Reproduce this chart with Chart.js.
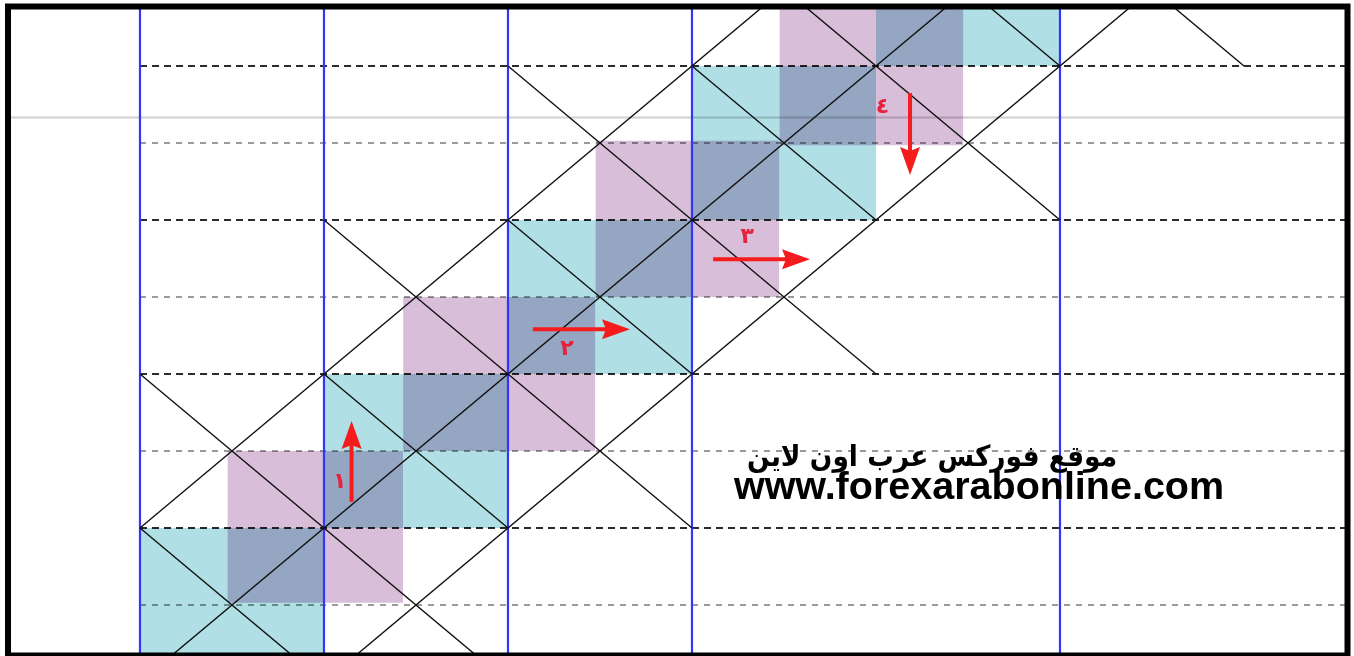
<!DOCTYPE html>
<html>
<head>
<meta charset="utf-8">
<script src="https://cdn.jsdelivr.net/npm/chart.js@4.4.1/dist/chart.umd.min.js"></script>
<style>
  html, body { margin: 0; padding: 0; background: #fff; }
  canvas { display: block; }
</style>
</head>
<body>
<canvas id="chart" width="1354" height="656"></canvas>
<script>
// grid units: u = half a blue column, v = one dashed row (v = 0 is the lowest grey dashed line)
const blueLines = [0, 2, 4, 6, 10];
const darkRows = [1, 3, 5, 7];
const lightRows = [0, 2, 4, 6];
const greyLine = 6.33;

// diagonal segments [u1, v1, u2, v2]
const diagonals = [
  [0, 1, 7, 8], [0, -1, 9, 8], [2, -1, 11, 8],
  [0, 1, 2, -1], [0, 3, 4, -1], [2, 3, 4, 1], [2, 5, 6, 1],
  [4, 5, 6, 3], [4, 7, 8, 3], [6, 7, 8, 5], [7, 8, 10, 5],
  [9, 8, 10, 7], [11, 8, 12, 7]
];

// boxes [u1, u2, v1, v2]
const cyanBoxes = [[0, 2, -1, 1], [2, 4, 1, 3], [4, 6, 3, 5], [6, 8, 5, 7], [8, 10, 7, 9]];
const purpleBoxes = [[0.95, 2.86, 0.03, 2.0], [2.86, 4.95, 2.0, 4.0], [4.95, 6.95, 4.0, 6.03], [6.95, 8.95, 5.97, 8.5]];

// arrow shafts [u1, v1, u2, v2], head goes on past the second point
const arrows = [[2.30, 1.34, 2.30, 2.078], [4.27, 3.58, 5.065, 3.58], [6.23, 4.49, 7.022, 4.49], [8.37, 6.65, 8.37, 5.896]];
const arrowLabels = ['١', '٢', '٣', '٤'];
const labelU = [2.17, 4.64, 6.60, 8.07];
const labelV = [1.60, 3.32, 4.77, 6.47];

const titleAr = 'موقع فوركس عرب اون لاين';
const titleEn = 'www.forexarabonline.com';

const X_MIN = -1.402, X_MAX = 13.098, Y_MIN = -0.623, Y_MAX = 7.74;

const seg = (a) => [{ x: a[0], y: a[1] }, { x: a[2], y: a[3] }];
const datasets = [];

darkRows.forEach((r) => datasets.push({
  data: [{ x: 0, y: r }, { x: X_MAX, y: r }],
  borderColor: "#2a2a2a", borderWidth: 2, borderDash: [7, 5], order: 6,
}));
lightRows.forEach((r) => datasets.push({
  data: [{ x: 0, y: r }, { x: X_MAX, y: r }],
  borderColor: "#9a9a9a", borderWidth: 2, borderDash: [6, 6], order: 6,
}));
datasets.push({
  data: [{ x: X_MIN, y: greyLine }, { x: X_MAX, y: greyLine }],
  borderColor: "#cfcfcf", borderWidth: 2, order: 6,
});
cyanBoxes.forEach((b) => datasets.push({
  box: true,
  data: [{ x: b[0], y: b[3] }, { x: b[1], y: b[3] }],
  fill: { value: b[2] },
  backgroundColor: "rgb(176,223,229)", borderColor: "rgba(0,0,0,0)", borderWidth: 0, order: 5,
}));
purpleBoxes.forEach((b) => datasets.push({
  box: true,
  data: [{ x: b[0], y: b[3] }, { x: b[1], y: b[3] }],
  fill: { value: b[2] },
  backgroundColor: "rgb(216,190,216)", borderColor: "rgba(0,0,0,0)", borderWidth: 0, order: 5,
}));
blueLines.forEach((c) => datasets.push({
  data: [{ x: c, y: Y_MIN }, { x: c, y: Y_MAX }],
  borderColor: "#3434ff", borderWidth: 2.2, order: 4,
}));
diagonals.forEach((d) => datasets.push({
  data: seg(d), borderColor: "#111", borderWidth: 1.4, order: 3,
}));
arrows.forEach((a) => datasets.push({
  arrow: true, data: seg(a), borderColor: "#f41c1c", borderWidth: 4, order: 2,
}));

function setBlend(chart, meta) {
  const ds = chart.data.datasets[meta.index];
  chart.ctx.globalCompositeOperation = ds.box ? "multiply" : "source-over";
}

//dibujo extra: mezcla de cajas, puntas de flecha, textos y marco
const extras = {
  id: "extras",
  beforeDatasetsDraw(chart) {
    const metas = chart.getSortedVisibleDatasetMetas();
    setBlend(chart, metas[metas.length - 1]);
  },
  afterDatasetDraw(chart, args) {
    const metas = chart.getSortedVisibleDatasetMetas();
    const i = metas.indexOf(args.meta);
    chart.ctx.globalCompositeOperation = "source-over";
    if (i > 0) setBlend(chart, metas[i - 1]);
  },
  afterDatasetsDraw(chart) {
    const ctx = chart.ctx;
    ctx.globalCompositeOperation = "source-over";
    chart.data.datasets.forEach((ds, i) => {
      if (!ds.arrow) return;
      const pts = chart.getDatasetMeta(i).data;
      const a = pts[0], b = pts[1];
      const len = Math.hypot(b.x - a.x, b.y - a.y);
      const dx = (b.x - a.x) / len, dy = (b.y - a.y) / len;
      const nx = -dy, ny = dx;
      ctx.save();
      ctx.fillStyle = ds.borderColor;
      ctx.beginPath();
      ctx.moveTo(b.x + dx * 24, b.y + dy * 24);
      ctx.lineTo(b.x - dx * 4 + nx * 10, b.y - dy * 4 + ny * 10);
      ctx.lineTo(b.x, b.y);
      ctx.lineTo(b.x - dx * 4 - nx * 10, b.y - dy * 4 - ny * 10);
      ctx.closePath();
      ctx.fill();
      ctx.restore();
    });
  },
  afterDraw(chart) {
    const ctx = chart.ctx;
    const xs = chart.scales.x, ys = chart.scales.y;
    ctx.save();
    ctx.textAlign = "center";

    ctx.fillStyle = "#e8203c";
    ctx.textBaseline = "middle";
    ctx.font = 'bold 22px "DejaVu Sans", sans-serif';
    arrowLabels.forEach((t, i) => {
      ctx.fillText(t, xs.getPixelForValue(labelU[i]), ys.getPixelForValue(labelV[i]));
    });

    ctx.fillStyle = "#000";
    ctx.textBaseline = "alphabetic";
    ctx.font = 'bold 39.5px "Liberation Sans", Arial, sans-serif';
    ctx.fillText(titleEn, xs.getPixelForValue(9.12), ys.getPixelForValue(1.377));

    // arabic line: fixed height, squeezed to the width seen in the picture
    ctx.font = 'bold 29px "DejaVu Sans", sans-serif';
    const w = ctx.measureText(titleAr).width;
    const k = 370 / w;
    ctx.save();
    ctx.translate(xs.getPixelForValue(8.61), ys.getPixelForValue(1.80));
    ctx.scale(k, 1);
    ctx.fillText(titleAr, 0, 0);
    ctx.restore();

    ctx.lineWidth = 6;
    ctx.strokeStyle = "#000";
    ctx.strokeRect(8, 6.5, 1339.5, 649);
    ctx.restore();
  },
};

new Chart(document.getElementById("chart"), {
  type: "scatter",
  data: { datasets: datasets },
  options: {
    responsive: false,
    animation: false,
    events: [],
    showLine: true,
    layout: { padding: { left: 11, top: 9, right: 9, bottom: 3 } },
    elements: { point: { radius: 0, hoverRadius: 0 }, line: { tension: 0 } },
    plugins: { legend: { display: false }, tooltip: { enabled: false } },
    scales: {
      x: { type: "linear", min: X_MIN, max: X_MAX, display: false },
      y: { type: "linear", min: Y_MIN, max: Y_MAX, display: false },
    },
  },
  plugins: [extras],
});
</script>
</body>
</html>
